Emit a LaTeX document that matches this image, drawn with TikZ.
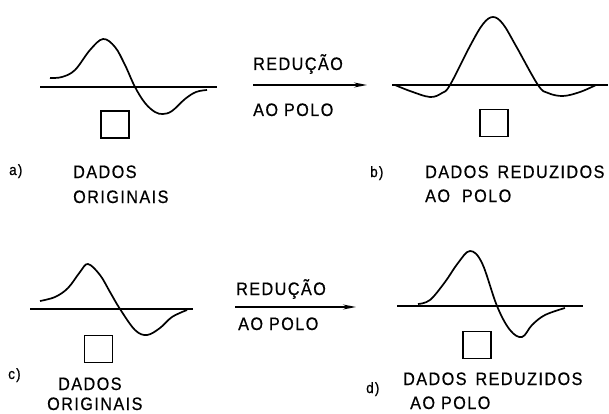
\documentclass[tikz,border=0pt]{standalone}
\usepackage{fontspec}
\setmainfont{Liberation Sans}[FakeStretch=0.9,LetterSpace=8,FakeBold=0.6]
\usetikzlibrary{arrows.meta}

\begin{document}
\begin{tikzpicture}[x=1pt,y=-1pt,
    axisline/.style={line width=1.2pt},
    signal/.style={line width=1.7pt},
    sqbox/.style={draw, line width=1.8pt, minimum width=28pt, minimum height=27pt, inner sep=0pt},
    caption/.style={anchor=base west, inner sep=0pt, font=\fontsize{18}{20}\selectfont},
    tag/.style={anchor=base west, inner sep=0pt, font=\fontsize{15}{17}\selectfont},
    reduce/.style={line width=1.3pt, -{Stealth[length=13pt,width=5pt]}}]
    \useasboundingbox (0,0) rectangle (609,414);
    % a) original anomaly
    \draw[axisline] (40,87) -- (217,87);
    \draw[signal] plot[smooth, tension=0.6] coordinates {(50,78) (62,77) (75,70) (90,50) (103,39) (115,47) (125,65) (135,87) (145,103) (155,112) (163,114) (172,111) (185,99) (196,92) (207,90)};
    \node[sqbox] (sqa) at (115,124.5) {};
    \node[tag] (taga) at (9,175) {a)};
    \node[caption] (capa1) at (73,178) {DADOS};
    \node[caption] (capa2) at (73,203) {ORIGINAIS};
    % top arrow
    \coordinate (arrA1) at (253,85);
    \coordinate (arrA2) at (367,85);
    \draw[reduce] (arrA1) -- (arrA2);
    \node[caption] (redA) at (253,70) {REDUÇÃO};
    \node[caption] (polA) at (253,116) {AO POLO};
    % b) reduced to pole
    \draw[axisline] (392,85) -- (608,85);
    \draw[signal] plot[smooth, tension=0.6] coordinates {(395,85) (410,91) (430,97) (442,93) (450,85) (470,46) (483,24) (493,17) (503,24) (516,46) (538,85) (548,93) (563,96) (580,92) (596,85)};
    \node[sqbox] (sqb) at (494,123) {};
    \node[tag] (tagb) at (370,177) {b)};
    \node[caption] (capb1) at (425,178) {DADOS\hspace{3pt} REDUZIDOS};
    \node[caption] (capb2) at (425,202) {AO\ \ POLO};
    % c) original anomaly
    \draw[axisline] (30,309) -- (193,309);
    \draw[signal] plot[smooth, tension=0.6] coordinates {(40,301) (55,297) (68,288) (80,272) (88,264) (100,275) (110,292) (120,309) (135,330) (147,335) (160,328) (172,317) (187,310)};
    \node[sqbox] (sqc) at (98.5,349) {};
    \node[tag] (tagc) at (8,379) {c)};
    \node[caption] (capc1) at (58,390) {DADOS};
    \node[caption] (capc2) at (47,410) {ORIGINAIS};
    % bottom arrow
    \coordinate (arrB1) at (235,307);
    \coordinate (arrB2) at (356,307);
    \draw[reduce] (arrB1) -- (arrB2);
    \node[caption] (redB) at (236,295) {REDUÇÃO};
    \node[caption] (polB) at (238,330) {AO POLO};
    % d) reduced to pole
    \draw[axisline] (397,306) -- (583,306);
    \draw[signal] plot[smooth, tension=0.6] coordinates {(418,304) (430,300) (445,282) (458,263) (470,251) (482,263) (497,306) (510,330) (522,337) (532,325) (545,315) (565,308)};
    \node[sqbox] (sqd) at (477,345) {};
    \node[tag] (tagd) at (366,393) {d)};
    \node[caption] (capd1) at (403,385) {DADOS\hspace{3pt} REDUZIDOS};
    \node[caption] (capd2) at (410,409) {AO POLO};
\end{tikzpicture}
\end{document}
